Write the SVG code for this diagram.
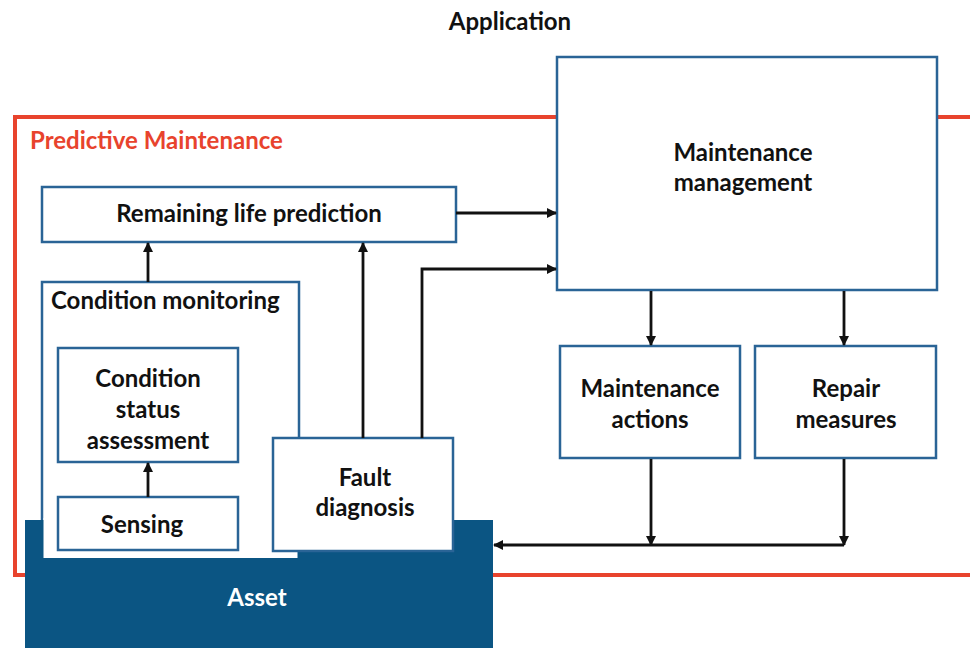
<svg xmlns="http://www.w3.org/2000/svg" width="970" height="651" viewBox="0 0 970 651">
<style>
.box{fill:#fff;stroke:#2a6496;stroke-width:2.5}
.t{font-family:Lato,"Open Sans","Liberation Sans",sans-serif;font-weight:bold;font-size:24px;fill:#111}
.c{text-anchor:middle}
.conn{fill:none;stroke:#111;stroke-width:2.8}
</style>
<defs>
<marker id="ah" markerWidth="10" markerHeight="10" refX="9" refY="5" orient="auto" markerUnits="userSpaceOnUse">
<path d="M0,0 L10,5 L0,10 Z" fill="#111"/>
</marker>
</defs>
<rect width="970" height="651" fill="#fff"/>
<text class="t c" x="510" y="30">Application</text>
<g id="pm-frame">
<rect x="15" y="117" width="970" height="458" fill="none" stroke="#e8432d" stroke-width="4"/>
<text class="t" x="30" y="149" style="fill:#e8432d">Predictive Maintenance</text>
</g>
<g id="maintenance-management">
<rect class="box" x="557" y="57" width="380" height="233"/>
<text class="t c" x="743" y="161">Maintenance</text>
<text class="t c" x="743" y="191">management</text>
</g>
<g id="remaining-life">
<rect class="box" x="42" y="187" width="414" height="55"/>
<text class="t c" x="249" y="222">Remaining life prediction</text>
</g>
<g id="condition-monitoring">
<rect class="box" x="42" y="282" width="257" height="276"/>
<text class="t" x="51" y="309">Condition monitoring</text>
</g>
<g id="asset">
<rect x="25" y="520" width="468" height="128" fill="#0b5583"/>
<rect x="43.5" y="518" width="254" height="40" fill="#fff"/>
<text class="t c" x="257" y="606" style="fill:#fff">Asset</text>
</g>
<g id="condition-status">
<rect class="box" x="58" y="348" width="180" height="114"/>
<text class="t c" x="148" y="387">Condition</text>
<text class="t c" x="148" y="418">status</text>
<text class="t c" x="148" y="449">assessment</text>
</g>
<g id="sensing">
<rect class="box" x="58" y="497" width="180" height="53"/>
<text class="t c" x="142" y="533">Sensing</text>
</g>
<g id="fault-diagnosis">
<rect class="box" x="273" y="438" width="180" height="113"/>
<text class="t c" x="365" y="486">Fault</text>
<text class="t c" x="365" y="516">diagnosis</text>
</g>
<g id="maintenance-actions">
<rect class="box" x="560" y="346" width="180" height="112"/>
<text class="t c" x="650" y="397">Maintenance</text>
<text class="t c" x="650" y="428">actions</text>
</g>
<g id="repair-measures">
<rect class="box" x="755" y="346" width="181" height="112"/>
<text class="t c" x="846" y="397">Repair</text>
<text class="t c" x="846" y="428">measures</text>
</g>
<g id="connectors">
<line class="conn" x1="148" y1="282" x2="148" y2="243" marker-end="url(#ah)"/>
<line class="conn" x1="148" y1="497" x2="148" y2="463" marker-end="url(#ah)"/>
<line class="conn" x1="363" y1="438" x2="363" y2="243" marker-end="url(#ah)"/>
<line class="conn" x1="456" y1="213" x2="556" y2="213" marker-end="url(#ah)"/>
<polyline class="conn" points="422,438 422,269 556,269" marker-end="url(#ah)"/>
<line class="conn" x1="651" y1="291" x2="651" y2="345" marker-end="url(#ah)"/>
<line class="conn" x1="844" y1="291" x2="844" y2="345" marker-end="url(#ah)"/>
<line class="conn" x1="651" y1="459" x2="651" y2="545" marker-end="url(#ah)"/>
<line class="conn" x1="844" y1="459" x2="844" y2="545" marker-end="url(#ah)"/>
<line class="conn" x1="844" y1="545" x2="494" y2="545" marker-end="url(#ah)"/>
</g>
</svg>
